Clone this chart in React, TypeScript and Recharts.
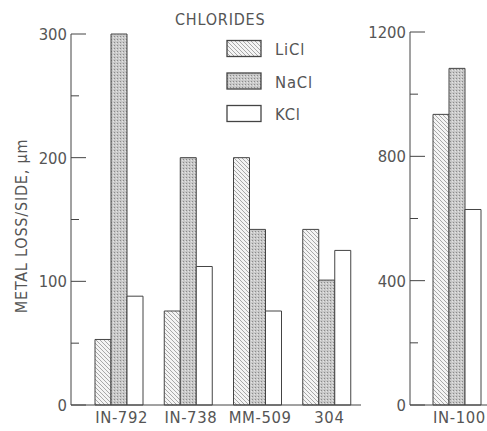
import React from 'react';
import { BarChart, Bar, XAxis, YAxis, Legend } from 'recharts';

const categories = ['IN-792', 'IN-738', 'MM-509', '304'];
const liClLeft = [53, 76, 200, 142];
const naClLeft = [300, 200, 142, 101];
const kClLeft = [88, 112, 76, 125];

const rightCategories = ['IN-100'];
const liClRight = [935];
const naClRight = [1083];
const kClRight = [629];

const leftTicks = [0, 50, 100, 150, 200, 250, 300];
const rightTicks = [0, 200, 400, 600, 800, 1000, 1200];

const seriesNames = ['LiCl', 'NaCl', 'KCl'];
const legendTitle = 'CHLORIDES';
const yTitle = 'METAL LOSS/SIDE, \u03bcm';

const leftData = categories.map((c, i) => ({ name: c, LiCl: liClLeft[i], NaCl: naClLeft[i], KCl: kClLeft[i] }));
const rightData = rightCategories.map((c, i) => ({ name: c, LiCl: liClRight[i], NaCl: naClRight[i], KCl: kClRight[i] }));

const FONT = "'DejaVu Sans Condensed', 'DejaVu Sans', sans-serif";
const TEXT = '#555';
const LINE = '#444';

const fills: Record<string, string> = {
  LiCl: 'url(#hatchPat)',
  NaCl: 'url(#stipplePat)',
  KCl: '#ffffff',
};

const Patterns = () => (
  <defs>
    <pattern id="hatchPat" patternUnits="userSpaceOnUse" width="4" height="4">
      <rect width="4" height="4" fill="#f4f4f4" />
      <path d="M-1,-1 L5,5 M3,-1 L5,1 M-1,3 L1,5" stroke="#a8a8a8" strokeWidth="1" />
    </pattern>
    <pattern id="stipplePat" patternUnits="userSpaceOnUse" width="3" height="3">
      <rect width="3" height="3" fill="#c8c8c8" />
      <rect x="0" y="0" width="1" height="1" fill="#8a8a8a" />
      <rect x="2" y="1" width="1" height="1" fill="#e4e4e4" />
    </pattern>
  </defs>
);

const makeYTick = (step: number) => (props: any) => {
  const { x, y, payload } = props;
  const ax = x + 4;
  const major = payload.value % step === 0;
  return (
    <g>
      <line x1={ax} x2={ax + (major ? 15 : 8)} y1={y} y2={y} stroke={LINE} strokeWidth={1} />
      {major && (
        <text x={x} y={y} dy="0.36em" textAnchor="end" fill={TEXT} fontSize={16.5} fontFamily={FONT}>
          {payload.value}
        </text>
      )}
    </g>
  );
};

const XTick = (props: any) => {
  const { x, y, payload } = props;
  return (
    <text x={x + 3} y={y} dy="0.75em" textAnchor="middle" fill={TEXT} fontSize={16.5} fontFamily={FONT} style={{ letterSpacing: '0.6px' }}>
      {payload.value}
    </text>
  );
};

const YLabel = () => {
  const cx = 27;
  const cy = 226;
  return (
    <text x={cx} y={cy} transform={`rotate(-90, ${cx}, ${cy})`} textAnchor="middle" fill={TEXT} fontSize={16} fontFamily={FONT} style={{ letterSpacing: '0.8px' }}>
      {yTitle}
    </text>
  );
};

const LegendContent = (props: any) => {
  const payload = [...(props.payload || [])].sort(
    (a: any, b: any) => seriesNames.indexOf(a.value) - seriesNames.indexOf(b.value)
  );
  return (
    <svg width={150} height={130} style={{ overflow: 'visible' }}>
      <text x={5} y={25} fill={TEXT} fontSize={16} fontFamily={FONT} style={{ letterSpacing: '0.8px' }}>{legendTitle}</text>
      {payload.map((p: any, i: number) => (
        <g key={p.value}>
          <rect x={57} y={40.5 + i * 32.5} width={34} height={16} fill={fills[p.value]} stroke={LINE} strokeWidth={1.3} />
          <text x={105} y={55 + i * 32.5} fill={TEXT} fontSize={16.5} fontFamily={FONT} style={{ letterSpacing: '0.8px' }}>{p.value}</text>
        </g>
      ))}
    </svg>
  );
};

export default function App() {
  return (
    <div style={{ position: 'fixed', left: 0, top: 0, width: 487, height: 431, overflow: 'hidden', background: '#fff' }}>
      <div style={{ position: 'absolute', left: 0, top: 0 }}>
        <BarChart width={375} height={431} data={leftData} margin={{ top: 34, right: 14, bottom: 0, left: 0 }} barGap={0} barSize={16}>
          <Patterns />
          <XAxis dataKey="name" height={26} axisLine={{ stroke: LINE }} tickLine={false} tickSize={0} tickMargin={6} tick={<XTick />} padding={{ left: 13, right: 0 }} interval={0} />
          <YAxis width={71} domain={[0, 300]} ticks={leftTicks} interval={0} axisLine={{ stroke: LINE }} tickLine={false} tickSize={0} tickMargin={4} tick={makeYTick(100)} label={<YLabel />} />
          <Legend layout="vertical" align="center" verticalAlign="middle" content={<LegendContent />} wrapperStyle={{ left: 170, top: 0, width: 150 }} />
          {seriesNames.map((s) => (
            <Bar key={s} dataKey={s} name={s} fill={fills[s]} stroke={LINE} strokeWidth={1} isAnimationActive={false} />
          ))}
        </BarChart>
      </div>
      <div style={{ position: 'absolute', left: 360, top: 0 }}>
        <BarChart width={127} height={431} data={rightData} margin={{ top: 32, right: 0, bottom: 0, left: 0 }} barGap={0} barSize={16}>
          <XAxis dataKey="name" height={26} axisLine={{ stroke: LINE }} tickLine={false} tickSize={0} tickMargin={6} tick={<XTick />} padding={{ left: 16, right: 0 }} interval={0} />
          <YAxis width={50} domain={[0, 1200]} ticks={rightTicks} interval={0} axisLine={{ stroke: LINE }} tickLine={false} tickSize={0} tickMargin={4} tick={makeYTick(400)} />
          {seriesNames.map((s) => (
            <Bar key={s} dataKey={s} name={s} fill={fills[s]} stroke={LINE} strokeWidth={1} isAnimationActive={false} />
          ))}
        </BarChart>
      </div>
    </div>
  );
}
